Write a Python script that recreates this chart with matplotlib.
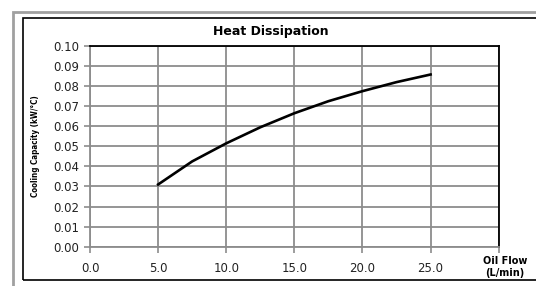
import numpy as np
from matplotlib import pyplot as plt
from matplotlib.patches import Rectangle

# oil flow (L/min) vs cooling capacity (kW/°C)
oil_flow = [5.0, 7.5, 10.0, 12.5, 15.0, 17.5, 20.0, 22.5, 25.0]
cooling = [0.031, 0.0425, 0.0515, 0.0595, 0.0665, 0.0725, 0.0775, 0.082, 0.0858]

x_ticks = [0, 5, 10, 15, 20, 25, 30]
x_labels = ['0.0', '5.0', '10.0', '15.0', '20.0', '25.0', '']
y_ticks = np.arange(0, 0.101, 0.01)

W, H = 536, 286
fig = plt.figure(figsize=(W / 100, H / 100), dpi=100)
ax = fig.add_axes([90 / W, 1 - 246.7 / H, (498.7 - 90) / W, (246.7 - 46) / H])

# frames around the chart
fig.patches.append(Rectangle((13 / W, -0.1), 1.2, (H - 12) / H + 0.1, transform=fig.transFigure,
                             fill=False, edgecolor='#a0a0a0', linewidth=2.0))
fig.patches.append(Rectangle((23 / W, 1 - 280 / H), 1.2, (280 - 17.5) / H, transform=fig.transFigure,
                             fill=False, edgecolor='black', linewidth=1.2))

ax.plot(oil_flow, cooling, color='black', linewidth=1.9)

ax.set_xlim(0, 30)
ax.set_ylim(0, 0.10)
ax.set_xticks(x_ticks)
ax.set_xticklabels(x_labels)
ax.set_yticks(y_ticks)
ax.set_yticklabels(['%.2f' % v for v in y_ticks])
ax.grid(True, color='#8c8c8c', linewidth=1.3)
ax.set_axisbelow(True)
ax.tick_params(axis='both', direction='out', length=4, width=1.2, color='#8c8c8c',
               labelsize=8.5, labelcolor='#222222', pad=4)
ax.tick_params(axis='x', pad=7)
for s in ['left', 'bottom']:
    ax.spines[s].set_color('#8c8c8c')
    ax.spines[s].set_linewidth(1.3)
for s in ['top', 'right']:
    ax.spines[s].set_color('black')
    ax.spines[s].set_linewidth(1.3)

fig.text(271 / W, 1 - 32 / H, 'Heat Dissipation', ha='center', va='center',
         fontsize=9, fontweight='bold')
fig.text(35 / W, 1 - 146 / H, 'Cooling Capacity (kW/°C)', rotation=90, ha='center', va='center',
         fontsize=5.8, fontweight='bold', fontstretch='condensed')
fig.text(505 / W, 1 - 267 / H, 'Oil Flow\n(L/min)', ha='center', va='center',
         fontsize=7, fontweight='bold', linespacing=1.15)

plt.savefig('out.png', dpi=100)
